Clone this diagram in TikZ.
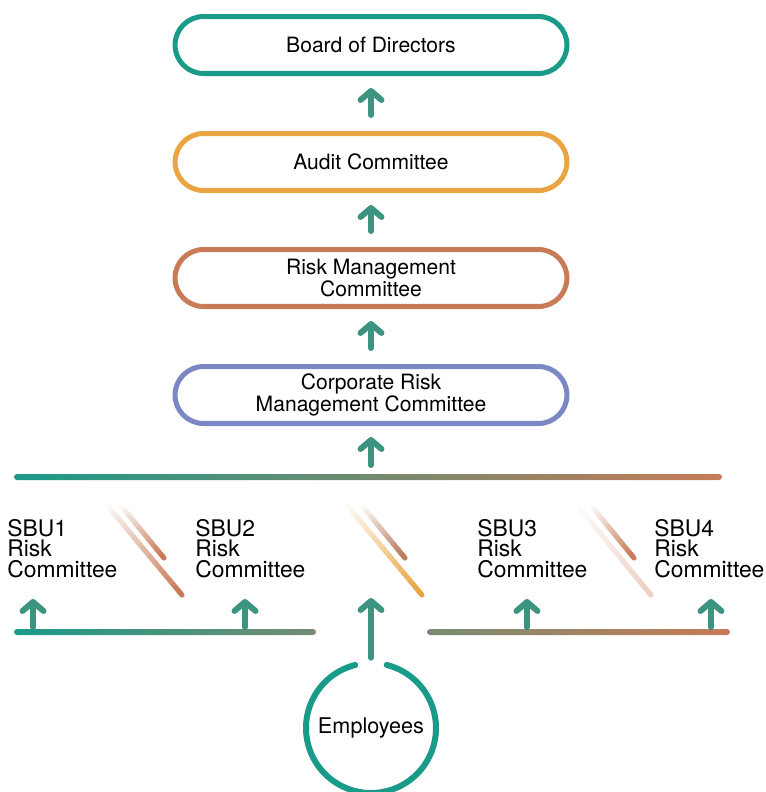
\documentclass[tikz,border=0pt]{standalone}
\usepackage{fontspec}
\setmainfont{TeX Gyre Heros}
\usetikzlibrary{arrows.meta,calc}

\definecolor{teal1}{HTML}{1A9A88}
\definecolor{gold1}{HTML}{E8A542}
\definecolor{rust1}{HTML}{C87B57}
\definecolor{blue1}{HTML}{7B88C4}
\definecolor{sage1}{HTML}{768C72}
\definecolor{arrow1}{HTML}{3C9480}

\tikzset{
  pill/.style={draw, line width=2.85pt, rounded corners=0.57cm, minimum width=7.84cm,
    minimum height=1.14cm, align=center, font=\fontsize{12}{12.5}\selectfont},
  uparrow/.style={arrow1, line width=3.4pt, line cap=round,
    -{Straight Barb[length=0.18cm,width=0.42cm,round]}},
  sbu/.style={anchor=south west, align=left, inner sep=0pt,
    font=\fontsize{13}{11.7}\selectfont},
}

% faded diagonal stroke: from, to, colour
\newcommand{\fadestroke}[3]{%
  \foreach \k in {0,...,24}{
    \pgfmathsetmacro{\ta}{\k/25}
    \pgfmathsetmacro{\tb}{(\k+1)/25}
    \pgfmathsetmacro{\pc}{4*\k+4}
    \draw[line width=2.9pt, line cap=round, #3!\pc!white] ($#1!\ta!#2$) -- ($#1!\tb!#2$);
  }
}

\begin{document}
\begin{tikzpicture}[x=0.02cm,y=-0.02cm]
  \useasboundingbox (0,0) rectangle (766,792);

  % committees
  \node[pill, draw=teal1] (board) at (371,45) {Board of Directors};
  \node[pill, draw=gold1] (audit) at (371,162) {Audit Committee};
  \node[pill, draw=rust1] (rmc) at (371,278) {Risk Management\\Committee};
  \node[pill, draw=blue1] (crmc) at (371,395) {Corporate Risk\\Management Committee};

  \draw[uparrow] ([yshift=0.32cm]audit.north) -- ([yshift=-0.24cm]board.south);
  \draw[uparrow] ([yshift=0.32cm]rmc.north) -- ([yshift=-0.24cm]audit.south);
  \draw[uparrow] ([yshift=0.32cm]crmc.north) -- ([yshift=-0.24cm]rmc.south);

  % bars
  \shade[left color=teal1, middle color=sage1, right color=rust1, rounded corners=0.06cm]
    (14,474) rectangle (722,480);
  \shade[left color=teal1, middle color=teal1!75!sage1, right color=sage1, rounded corners=0.06cm]
    (14,629) rectangle (316,635);
  \shade[left color=sage1, right color=rust1, rounded corners=0.06cm]
    (427,629) rectangle (730,635);

  \coordinate (hub) at (371,465);
  \draw[uparrow] (hub) -- ([yshift=-0.22cm]crmc.south);

  % business units
  \node[sbu] (sbu1) at (7,578) {SBU1\\Risk\\Committee};
  \node[sbu] (sbu2) at (195,578) {SBU2\\Risk\\Committee};
  \node[sbu] (sbu3) at (477,578) {SBU3\\Risk\\Committee};
  \node[sbu] (sbu4) at (654,578) {SBU4\\Risk\\Committee};

  \coordinate (s1) at (33,627);
  \coordinate (s2) at (245,627);
  \coordinate (s3) at (527,627);
  \coordinate (s4) at (711,627);
  \draw[uparrow] (s1) -- ([yshift=-0.42cm]s1 |- sbu1.south);
  \draw[uparrow] (s2) -- ([yshift=-0.42cm]s2 |- sbu2.south);
  \draw[uparrow] (s3) -- ([yshift=-0.42cm]s3 |- sbu3.south);
  \draw[uparrow] (s4) -- ([yshift=-0.42cm]s4 |- sbu4.south);

  % diagonal strokes
  \fadestroke{(107,505)}{(182,595)}{rust1}
  \fadestroke{(122,507)}{(164,558)}{rust1}
  \fadestroke{(347,505)}{(422,595)}{gold1}
  \fadestroke{(363,507)}{(405,558)}{rust1!80!gray}
  \fadestroke{(577,505)}{(651,595)}{rust1!35!white}
  \fadestroke{(593,508)}{(634,558)}{rust1}

  % employees
  \node[circle, minimum size=2.6cm, font=\fontsize{12.3}{13}\selectfont] (emp) at (371,728) {Employees};
  \draw[teal1, line width=0.12cm, line cap=round]
    ([shift={(104:1.3cm)}]emp.center) arc[start angle=104, end angle=436, radius=1.3cm];
  \coordinate (mid) at (371,598);
  \draw[uparrow] ([yshift=0.1cm]emp.north) -- (mid);
\end{tikzpicture}
\end{document}
